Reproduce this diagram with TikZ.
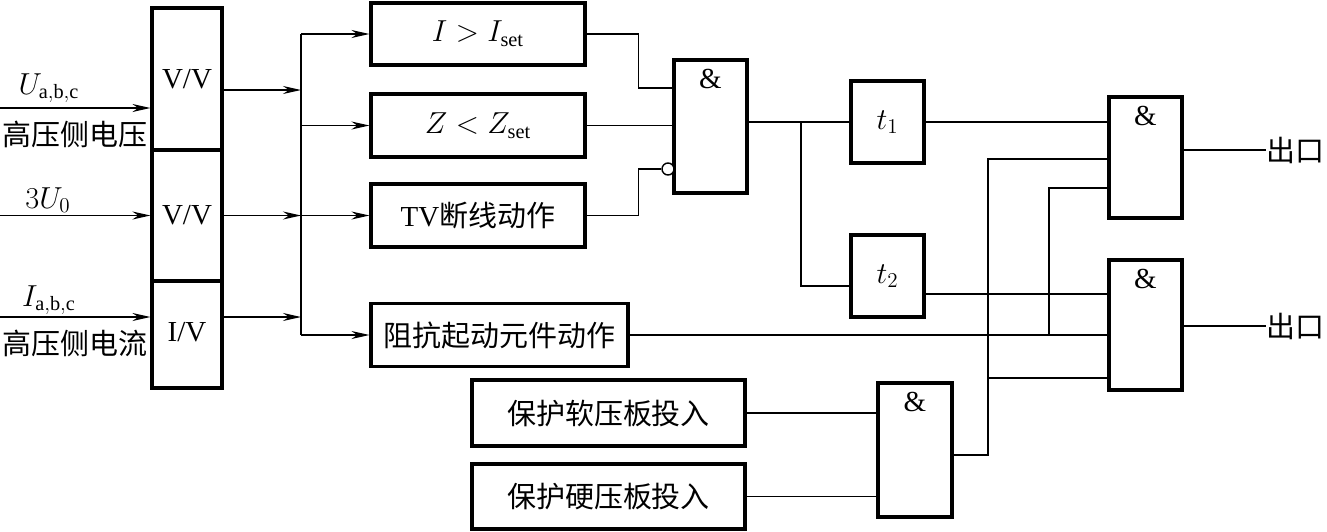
\documentclass[tikz,border=0pt]{standalone}
\usepackage{fontspec}
\setmainfont{Liberation Serif}
\newfontfamily\cjk{Noto Sans CJK SC}
\usetikzlibrary{arrows.meta,positioning}

\begin{document}
\begin{tikzpicture}[
        x=0.02cm, y=-0.02cm,
        font=\fontsize{16.5}{20}\selectfont,
        box/.style={draw, line width=1.8pt, minimum height=1.26cm, inner sep=0pt},
        gate/.style={draw, line width=1.8pt, minimum width=1.46cm, inner sep=0pt,
            label={[anchor=north, inner sep=0pt, yshift=-0.2cm]north:\&}},
        wire/.style={line width=0.8pt},
        arr/.style={wire, -{Stealth[length=3.6mm,width=1.6mm]}},
        bubble/.style={draw, circle, line width=0.8pt, minimum size=0.24cm, inner sep=0pt, fill=white},
        lbl/.style={inner sep=1pt}
    ]
    \useasboundingbox (0,0) rectangle (1327,531);

    \node[box, minimum width=1.4cm, minimum height=2.84cm] (vv1) at (187,79) {\raisebox{-0.16cm}{V/V}};
    \node[box, minimum width=1.4cm, minimum height=2.62cm] (vv2) at (187,215.5) {V/V};
    \node[box, minimum width=1.4cm, minimum height=2.14cm] (iv) at (187,334.5) {\raisebox{0.12cm}{I/V}};

    \node[lbl] (lU) at (49,88) {$U_{\mathrm{a,b,c}}$};
    \node[lbl] (lUcn) at (75,134) {\cjk 高压侧电压};
    \node[lbl] (lU0) at (48,200) {$3U_0$};
    \node[lbl] (lI) at (49,300) {$I_{\mathrm{a,b,c}}$};
    \node[lbl] (lIcn) at (75,343) {\cjk 高压侧电流};

    \node[box, minimum width=4.28cm, minimum height=1.24cm] (iset) at (478,34) {$I>I_{\mathrm{set}}$};
    \node[box, minimum width=4.28cm] (zset) at (478,125.5) {$Z<Z_{\mathrm{set}}$};
    \node[box, minimum width=4.28cm] (tv) at (478,215.5) {TV{\cjk 断线动作}};
    \node[box, minimum width=5.14cm] (zimp) at (499.5,335) {\cjk 阻抗起动元件动作};
    \node[box, minimum width=5.46cm, minimum height=1.32cm] (soft) at (608.5,413) {\cjk 保护软压板投入};
    \node[box, minimum width=5.46cm, minimum height=1.30cm] (hard) at (608.5,496.5) {\cjk 保护硬压板投入};

    \node[gate, minimum height=2.66cm] (and1) at (710.5,126.5) {};
    \node[box, minimum width=1.46cm, minimum height=1.64cm] (t1) at (887.5,122) {$t_1$};
    \node[box, minimum width=1.46cm, minimum height=1.64cm] (t2) at (887.5,276) {\raisebox{-0.12cm}{$t_2$}};
    \node[gate, minimum height=2.42cm] (and2) at (1145.5,157.5) {};
    \node[gate, minimum height=2.6cm] (and3) at (1145.5,325) {};
    \node[gate, minimum width=1.48cm, minimum height=2.68cm] (and4) at (915,450) {};
    \node[bubble] (neg) at (668,169) {};

    \node[lbl, anchor=west, inner sep=0pt] (out1) at (1266,150) {\cjk 出口};
    \node[lbl, anchor=west, inner sep=0pt] (out2) at (1266,326) {\cjk 出口};

    \coordinate (inU) at (0,108);
    \coordinate (in0) at (0,215.5);
    \coordinate (inI) at (0,317);
    \coordinate (o1) at (301,90);
    \coordinate (o3) at (301,317);
    \coordinate (bt) at (301,34);
    \coordinate (bb) at (301,335);
    \coordinate (g1a) at (674,88);
    \coordinate (j1) at (801,122);
    \coordinate (t2a) at (851,286);
    \coordinate (t2b) at (924,294);
    \coordinate (j2) at (1049,335);
    \coordinate (a2b) at (1109,159);
    \coordinate (a2c) at (1109,188);
    \coordinate (a3c) at (1109,378);
    \coordinate (k4) at (988,455);

    \draw[arr] (inU) -- (inU -| vv1.west);
    \draw[arr] (in0) -- (in0 -| vv2.west);
    \draw[arr] (inI) -- (inI -| iv.west);

    \draw[arr] (vv1.east |- o1) -- (o1);
    \draw[arr] (vv2.east) -- (vv2.east -| bt);
    \draw[arr] (iv.east |- o3) -- (o3);
    \draw[wire] (bt) -- (bb);
    \draw[arr] (bt) -- (iset.west);
    \draw[arr] (bt |- zset.west) -- (zset.west);
    \draw[arr] (bt |- tv.west) -- (tv.west);
    \draw[arr] (bb) -- (zimp.west);

    \draw[wire] (iset.east) -- ++(52,0) |- (g1a);
    \draw[wire] (zset.east) -- (zset.east -| and1.west);
    \draw[wire] (tv.east) -- ++(52,0) |- (neg.west);

    \draw[wire] (and1.east |- t1.west) -- (t1.west);
    \draw[wire] (j1) |- (t2a);
    \draw[wire] (t1.east) -- (t1.east -| and2.west);
    \draw[wire] (t2b) -- (t2b -| and3.west);
    \draw[wire] (zimp.east) -- (zimp.east -| and3.west);
    \draw[wire] (j2) |- (a2c);

    \draw[wire] (soft.east) -- (soft.east -| and4.west);
    \draw[wire] (hard.east) -- (hard.east -| and4.west);
    \draw[wire] (and4.east |- k4) -- (k4) |- (a2b);
    \draw[wire] (k4) |- (a3c);

    \draw[wire] (and2.east |- out1.west) -- (out1.west);
    \draw[wire] (and3.east |- out2.west) -- (out2.west);
\end{tikzpicture}
\end{document}
